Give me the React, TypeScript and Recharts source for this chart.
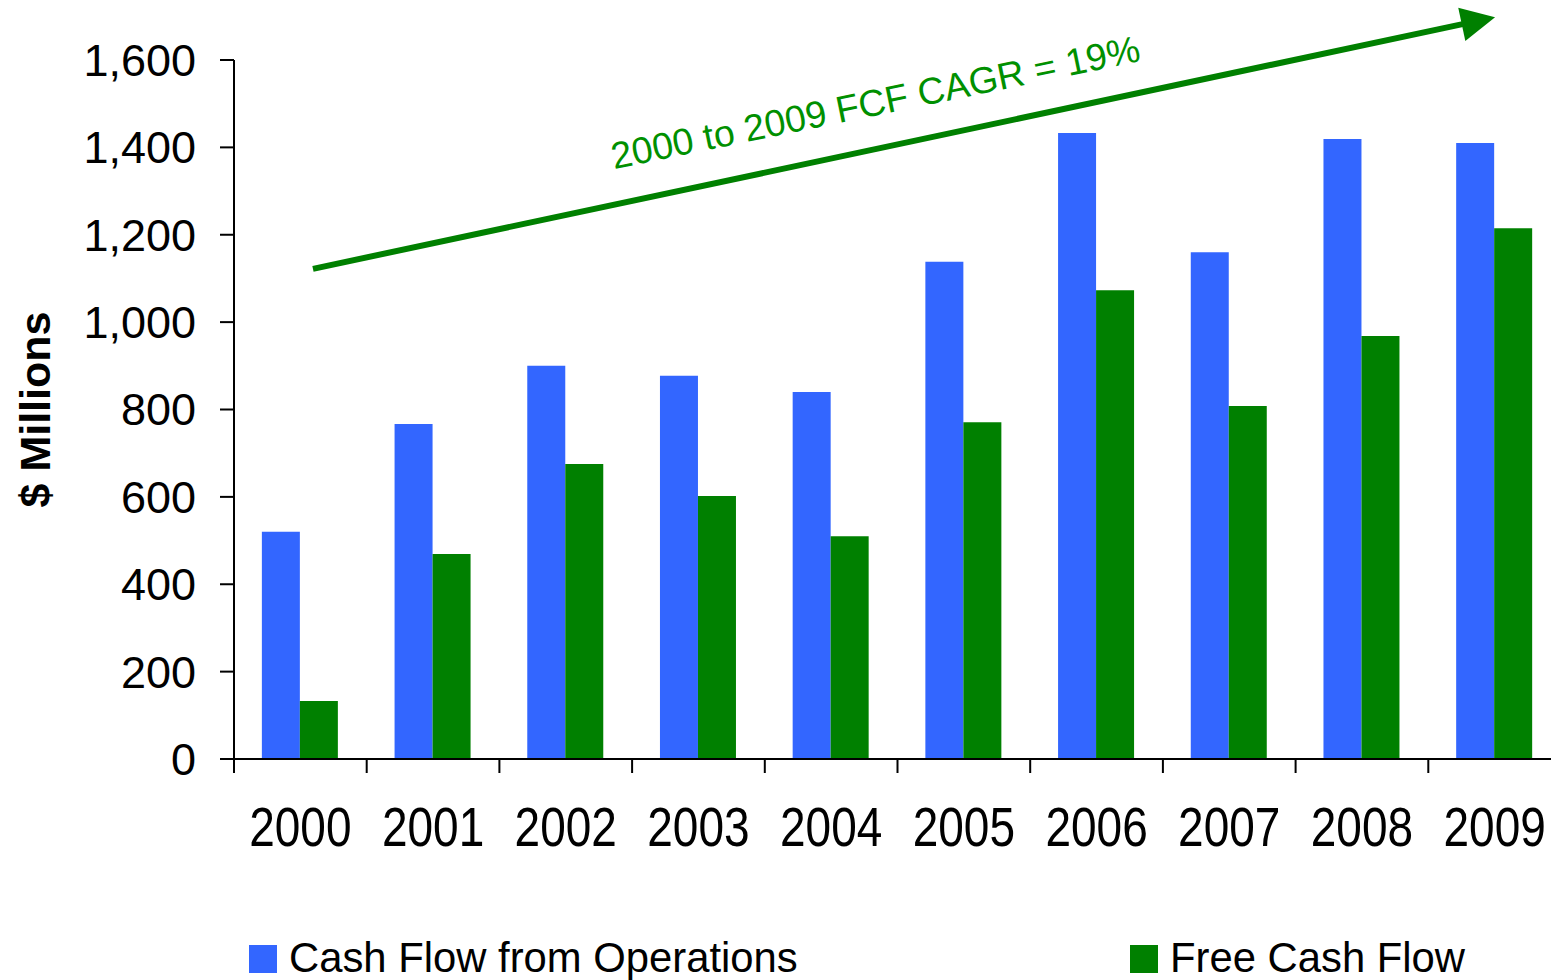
import { BarChart, Bar, XAxis, YAxis, ReferenceLine, ReferenceDot, Legend } from 'recharts'

// Operating cash flow vs free cash flow, 2000–2009 ($ millions)
const years = ['2000', '2001', '2002', '2003', '2004', '2005', '2006', '2007', '2008', '2009']
const cashFromOps = [520, 767, 900, 877, 840, 1138, 1433, 1160, 1419, 1410]
const freeCashFlow = [133, 469, 675, 602, 510, 771, 1073, 808, 968, 1215]
const yTicks = [0, 200, 400, 600, 800, 1000, 1200, 1400, 1600]

// CAGR annotation, in data units (x = position on a hidden linear 0..10 axis, one unit per year)
const cagrArrow = [{ x: 0.595, y: 1122 }, { x: 9.503, y: 1698 }]
const cagrLabel = { x: 4.853, y: 1474, text: '2000 to 2009 FCF CAGR = 19%' }

const BLUE = '#3366FF'
const GREEN = '#008000'
const FONT = '"Liberation Sans", Arial, sans-serif'

// slot = centre of each year on the linear axis used by the annotation
const data = years.map((year, i) => ({ year, slot: i + 0.5, cfo: cashFromOps[i], fcf: freeCashFlow[i] }))

const CHART_W = 1561
const CHART_H = 980
const MARGIN = { top: 60, right: 0, bottom: 161, left: 0 }
const BAND = (CHART_W - 234) / years.length

function YearTick({ x, y, payload }: any) {
  const half = payload?.offset || BAND / 2
  const edge = x - half
  return (
    <g>
      <line x1={edge} x2={edge} y1={y} y2={y + 14} stroke="#000" strokeWidth={2} />
      <text
        transform={`translate(${x},${y + 87}) scale(1,1.2)`}
        textAnchor="middle" fontSize={46} fill="#000" fontFamily={FONT}
      >
        {payload.value}
      </text>
    </g>
  )
}

function AxisTitle({ viewBox }: any) {
  const cy = viewBox ? viewBox.y + viewBox.height / 2 : 409
  const bx = 50
  return (
    <text
      x={bx} y={cy} transform={`rotate(-90 ${bx} ${cy})`}
      textAnchor="middle" fontSize={43} fontWeight="bold" fill="#000" fontFamily={FONT}
    >
      $ Millions
    </text>
  )
}

function ArrowShape({ x1, y1, x2, y2 }: any) {
  const len = Math.hypot(x2 - x1, y2 - y1)
  const ux = (x2 - x1) / len
  const uy = (y2 - y1) / len
  const head = 34
  const half = 17
  const bx = x2 - ux * head
  const by = y2 - uy * head
  return (
    <g>
      <line x1={x1} y1={y1} x2={bx + ux * 2} y2={by + uy * 2} stroke={GREEN} strokeWidth={6} />
      <polygon
        points={`${x2},${y2} ${bx - uy * half},${by + ux * half} ${bx + uy * half},${by - ux * half}`}
        fill={GREEN}
      />
    </g>
  )
}

function CagrText({ cx, cy }: any) {
  return (
    <text
      x={cx} y={cy} transform={`rotate(-11.6 ${cx} ${cy})`}
      textAnchor="middle" fontSize={37.5} fill="#009000" fontFamily={FONT}
    >
      {cagrLabel.text}
    </text>
  )
}

const LEGEND_X = [249, 1130]

function LegendContent({ payload }: any) {
  return (
    <div style={{ position: 'relative', height: 50, fontFamily: FONT }}>
      {(payload || []).map((p: any, i: number) => (
        <div key={p.value} style={{ position: 'absolute', left: LEGEND_X[i], top: 0 }}>
          <div style={{ position: 'absolute', left: 0, top: 15, width: 28, height: 28, background: p.color }} />
          <div style={{ position: 'absolute', left: 40, top: 7, fontSize: 41.8, lineHeight: '42px', whiteSpace: 'nowrap', color: '#000' }}>
            {p.value}
          </div>
        </div>
      ))}
    </div>
  )
}

export default function App() {
  return (
    <div style={{ width: 1551, height: 980, overflow: 'hidden', position: 'relative', background: '#fff', fontFamily: FONT }}>
      <style>{'body{margin:0}'}</style>
      <BarChart
        width={CHART_W} height={CHART_H} data={data} margin={MARGIN}
        barCategoryGap="21%" barGap={0}
      >
        <XAxis
          dataKey="year" height={60} interval={0}
          tickSize={0} tickMargin={0} tickLine={false}
          axisLine={{ stroke: '#000', strokeWidth: 2 }}
          tick={<YearTick />}
        />
        <XAxis xAxisId="num" dataKey="slot" type="number" domain={[0, 10]} allowDataOverflow hide />
        <YAxis
          width={234} domain={[0, 1600]} ticks={yTicks} interval={0}
          tickSize={14} tickMargin={24}
          tickFormatter={(v: number) => v.toLocaleString('en-US')}
          tick={{ fontSize: 45, fill: '#000', fontFamily: FONT }}
          axisLine={{ stroke: '#000', strokeWidth: 2 }}
          tickLine={{ stroke: '#000', strokeWidth: 2 }}
          label={<AxisTitle />}
        />
        <Bar dataKey="cfo" name="Cash Flow from Operations" fill={BLUE} isAnimationActive={false} />
        <Bar dataKey="fcf" name="Free Cash Flow" fill={GREEN} isAnimationActive={false} />
        <ReferenceLine
          xAxisId="num" segment={cagrArrow} ifOverflow="visible"
          shape={(props: any) => <ArrowShape {...props} />}
        />
        <ReferenceDot
          xAxisId="num" x={cagrLabel.x} y={cagrLabel.y} r={0} ifOverflow="visible"
          shape={(props: any) => <CagrText {...props} />}
        />
        <Legend
          layout="horizontal" verticalAlign="middle" align="center"
          wrapperStyle={{ top: 930, left: 0, width: 1551, height: 50 }}
          content={<LegendContent />}
        />
      </BarChart>
    </div>
  )
}
